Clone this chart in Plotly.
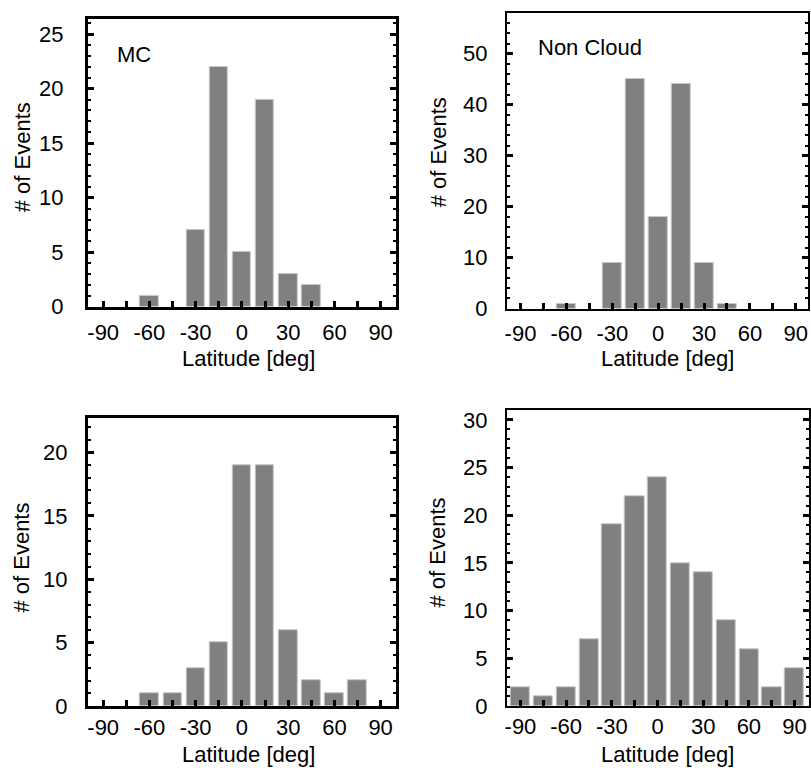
import plotly.graph_objects as go

# ---- data ----
mc_lat = [-60, -30, -15, 0, 15, 30, 45]
mc_cnt = [1, 7, 22, 5, 19, 3, 2]

nc_lat = [-60, -30, -15, 0, 15, 30, 45]
nc_cnt = [1, 9, 45, 18, 44, 9, 1]

p3_lat = [-60, -45, -30, -15, 0, 15, 30, 45, 60, 75]
p3_cnt = [1, 1, 3, 5, 19, 19, 6, 2, 1, 2]

p4_lat = [-90, -75, -60, -45, -30, -15, 0, 15, 30, 45, 60, 75, 90]
p4_cnt = [2, 1, 2, 7, 19, 22, 24, 15, 14, 9, 6, 2, 4]

x_tickvals = [-90, -60, -30, 0, 30, 60, 90]
x_ticktext = ["-90", "-60", "-30", "0", "30", "60", "90"]

W, H = 811, 768
S = 781 / 768  # vertical compensation for page capture
FONT = "Liberation Sans, Arial, sans-serif"
BAR = "#808080"
FS = 22


def fy(y_img):
    return 1 - (y_img * S) / H


# pixel boxes: (left, right, top, bottom)
panels = [
    dict(lat=mc_lat, cnt=mc_cnt, box=(86, 395, 16, 305), ymax=26.4, ymaj=5, ymin=1, lw=3, xr=[-100, 100], bw=12, ysd=17, xsd=4),
    dict(lat=nc_lat, cnt=nc_cnt, box=(506, 808, 10, 307), ymax=58, ymaj=10, ymin=2, lw=1.6, xr=[-99, 98], bw=12.6, ysd=13, xsd=4),
    dict(lat=p3_lat, cnt=p3_cnt, box=(86, 395, 417, 706), ymax=22.7, ymaj=5, ymin=1, lw=3, xr=[-100, 100], bw=12, ysd=13, xsd=0),
    dict(lat=p4_lat, cnt=p4_cnt, box=(506, 809, 409, 706), ymax=31, ymaj=5, ymin=1, lw=1.6, xr=[-99, 99.5], bw=12.6, ysd=13, xsd=0),
]

fig = go.Figure()
layout = dict(
    width=W, height=H, margin=dict(l=0, r=0, t=0, b=0),
    paper_bgcolor="white", plot_bgcolor="white", showlegend=False,
    font=dict(family=FONT, size=FS, color="black"), bargap=0,
)

for i, p in enumerate(panels, start=1):
    xa = "x" if i == 1 else f"x{i}"
    ya = "y" if i == 1 else f"y{i}"
    fig.add_trace(go.Bar(
        x=p["lat"], y=p["cnt"], width=p["bw"], xaxis=xa, yaxis=ya,
        marker=dict(color=BAR, line=dict(color="#c8c8c8", width=1)),
    ))
    l, r, t, b = p["box"]
    xkey = "xaxis" if i == 1 else f"xaxis{i}"
    ykey = "yaxis" if i == 1 else f"yaxis{i}"
    layout[xkey] = dict(
        domain=[l / W, r / W], anchor=ya, range=p["xr"],
        tickmode="array", tickvals=x_tickvals, ticktext=x_ticktext,
        ticks="inside", ticklen=6, tickwidth=2.5, tickcolor="black",
        minor=dict(dtick=15, tick0=0, ticks="inside", ticklen=6, tickwidth=2.5, tickcolor="black"),
        showline=True, linewidth=p["lw"], linecolor="black", mirror=True,
        showgrid=False, zeroline=False, ticklabelstandoff=p["xsd"],
        tickfont=dict(size=FS, family=FONT),
    )
    layout[ykey] = dict(
        domain=[fy(b), fy(t)], anchor=xa, range=[0, p["ymax"]],
        dtick=p["ymaj"], tick0=0,
        ticks="inside", ticklen=6, tickwidth=2.5, tickcolor="black",
        minor=dict(dtick=p["ymin"], ticks="inside", ticklen=3, tickwidth=1.5, tickcolor="black"),
        showline=True, linewidth=p["lw"], linecolor="black", mirror="ticks",
        showgrid=False, zeroline=False, ticklabelstandoff=p["ysd"],
        tickfont=dict(size=FS, family=FONT),
    )

fig.update_layout(**layout)

# axis titles and panel labels
ann = []
for cx, cy in [(247, 357), (667, 357), (247, 755), (667, 755)]:
    ann.append(dict(text="Latitude [deg]", x=cx / W, y=fy(cy), xref="paper", yref="paper",
                    showarrow=False, xanchor="center", yanchor="middle", font=dict(size=FS, family=FONT)))
for cx, cy in [(20, 155), (437, 150), (20, 557), (437, 552)]:
    ann.append(dict(text="# of Events", x=cx / W, y=fy(cy), xref="paper", yref="paper",
                    showarrow=False, xanchor="center", yanchor="middle", textangle=-90,
                    font=dict(size=FS, family=FONT)))
ann.append(dict(text="MC", x=113 / W, y=fy(52), xref="paper", yref="paper", showarrow=False,
                xanchor="left", yanchor="middle", font=dict(size=FS, family=FONT)))
ann.append(dict(text="Non Cloud", x=535 / W, y=fy(45), xref="paper", yref="paper", showarrow=False,
                xanchor="left", yanchor="middle", font=dict(size=FS, family=FONT)))
fig.update_layout(annotations=ann)

fig.write_html("out.html")
